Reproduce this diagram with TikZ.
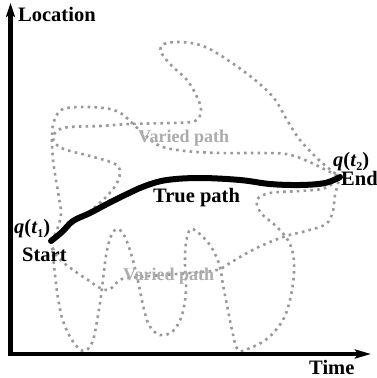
\documentclass[tikz,border=0pt]{standalone}
\usepackage{fontspec}
\setmainfont{Liberation Serif}
\usetikzlibrary{arrows.meta}
\begin{document}
\begin{tikzpicture}[x=1pt,y=-1pt,
  axis/.style={line width=4.5pt, {Stealth[length=14pt,width=9pt,inset=3pt]}-{Stealth[length=16pt,width=9pt,inset=3pt]}},
  truepath/.style={line width=6pt, line cap=round, line join=round},
  varied/.style={color=gray!80, line width=2.6pt, dash pattern=on 2.6pt off 4.2pt},
  lbl/.style={font=\bfseries\fontsize{20.5}{24}\selectfont, inner sep=0pt, anchor=base west},
  vlbl/.style={font=\bfseries\fontsize{18}{21}\selectfont, text=gray!65, inner sep=0pt, anchor=base west}]
\useasboundingbox (0,0) rectangle (376,378);
\coordinate (o) at (10.5,354);
\coordinate (ytip) at (10.5,3);
\coordinate (xtip) at (371,354);
\coordinate (s) at (51,241);
\coordinate (e) at (340,177);
% varied paths (upper)
\draw[varied] plot[smooth, tension=0.6] coordinates {(s) (57,230) (61,214) (59,198) (56,180) (53,160) (52,140) (53,125) (58,113) (67,108) (90,107) (110,109) (122,114) (132,123) (145,135) (160,146) (185,151) (220,153) (260,153) (286,154) (305,160) (326,170) (e)};
\draw[varied] plot[smooth, tension=0.6] coordinates {(s) (65,228) (80,218) (95,207) (108,195) (117,183) (120,170) (113,163) (90,156) (70,151) (58,146) (53,138) (58,130) (70,127) (100,126) (130,124) (170,123) (195,121) (201,110) (197,97) (187,80) (172,66) (161,52) (164,44) (180,42) (200,45) (220,55) (250,76) (273,97) (287,120) (300,140) (319,160) (332,171) (e)};
% varied paths (lower)
\draw[varied] plot[smooth, tension=0.6] coordinates {(s) (53,255) (55,275) (58,298) (63,321) (72,340) (83,351) (92,343) (97,321) (101,296) (104,271) (107,250) (112,234) (118,229) (125,237) (132,257) (138,281) (143,305) (149,325) (160,335) (173,331) (182,315) (186,290) (185,263) (186,243) (191,229) (203,237) (213,250) (220,267) (223,285) (227,305) (232,330) (238,350) (250,348) (268,338) (284,318) (292,290) (294,262) (289,242) (276,226) (261,213) (257,200) (270,193) (300,191) (325,188) (e)};
\draw[varied] plot[smooth, tension=0.6] coordinates {(s) (55,253) (64,263) (76,272) (88,280) (100,288) (108,290) (115,285) (122,279) (150,276) (190,273) (217,270) (230,263) (247,253) (263,245) (286,236) (306,231) (326,224) (333,211) (335,195) (e)};
% true path
\draw[truepath] plot[smooth, tension=0.6] coordinates {(s) (62,232) (73,221) (90,213) (107,204) (125,195) (145,186) (167,180) (200,178) (240,180) (270,184) (300,185) (325,183) (e)};
% axes
\draw[axis] (ytip) -- (o) -- (xtip);
% labels
\node[lbl] (loc) at (18,21) {Location};
\node[lbl] (time) at (309,374) {Time};
\node[lbl] (start) at (22,261) {Start};
\node[lbl] (end) at (341,185) {End};
\node[lbl] (q1) at (14,233) {\textit{q}(\textit{t}\raisebox{-0.45ex}{\fontsize{12}{14}\selectfont 1})};
\node[lbl] (q2) at (333,166) {\textit{q}(\textit{t}\raisebox{-0.45ex}{\fontsize{12}{14}\selectfont 2})};
\node[lbl] (tp) at (153,202) {True path};
\node[vlbl] (v1) at (138,142) {Varied path};
\node[vlbl] (v2) at (123,280) {Varied path};
\end{tikzpicture}
\end{document}
